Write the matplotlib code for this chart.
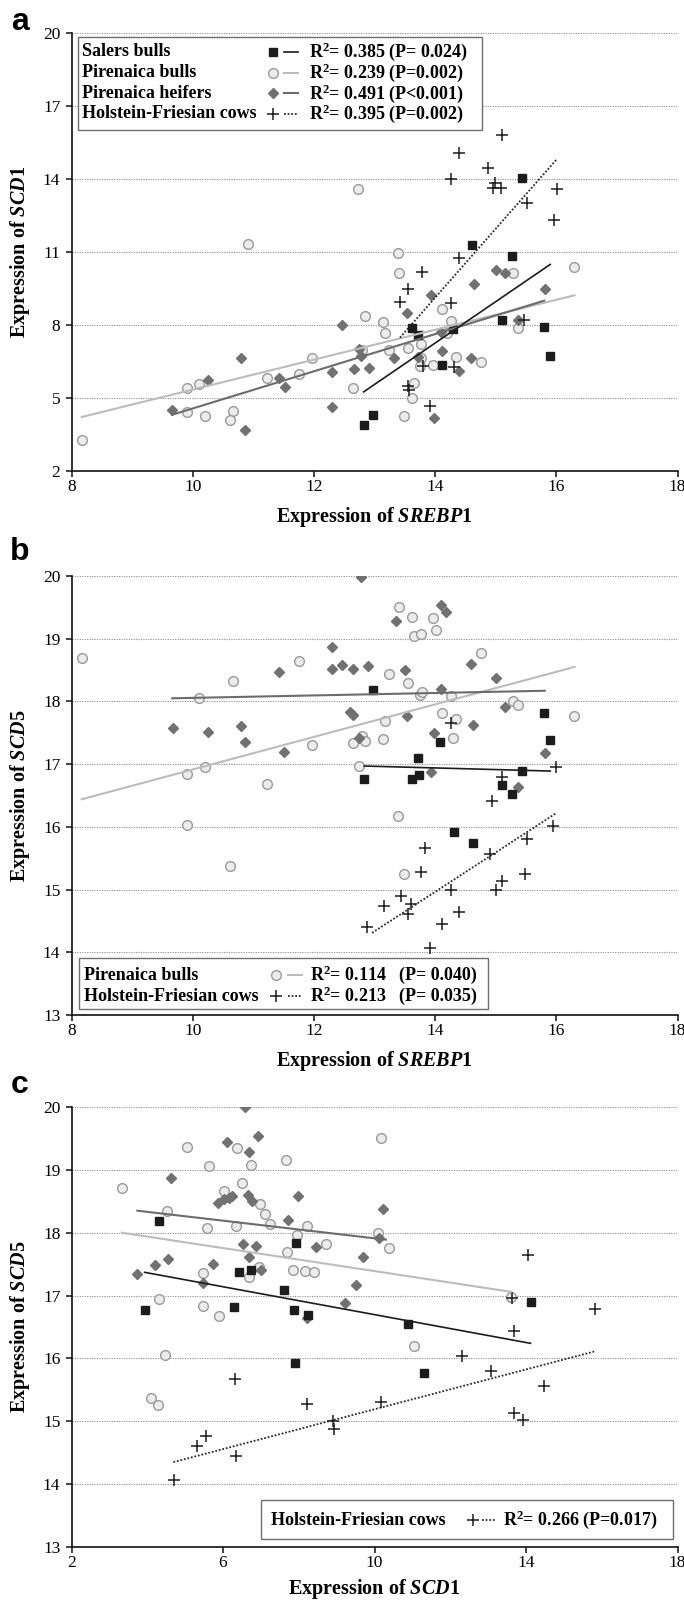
import numpy as np
import matplotlib
matplotlib.use("Agg")
import matplotlib.pyplot as plt
from matplotlib.patches import Rectangle

# ========= 字体 =========
plt.rcParams["font.family"] = ["Liberation Serif", "DejaVu Serif"]
plt.rcParams["mathtext.fontset"] = "custom"
plt.rcParams["mathtext.rm"] = "Liberation Serif:bold"
plt.rcParams["mathtext.bf"] = "Liberation Serif:bold"
plt.rcParams["mathtext.it"] = "Liberation Serif:italic:bold"

# ========= 数据 (a: SREBP1 vs SCD1) =========
salers_a = [(15.43, 14.04), (14.61, 11.27), (15.27, 10.82), (13.62, 7.86), (13.72, 7.58),
            (14.30, 7.85), (14.11, 6.37), (15.11, 8.20), (15.80, 7.90), (15.90, 6.73),
            (12.82, 3.90), (12.98, 4.30)]
bulls_a = [(12.73, 13.58), (10.91, 11.34), (13.39, 10.97), (16.30, 10.39), (13.40, 10.14),
           (15.29, 10.12), (14.11, 8.67), (12.85, 8.37), (13.14, 8.12), (13.17, 7.66),
           (14.26, 8.16), (15.36, 7.89), (14.19, 7.66), (13.24, 6.98), (13.55, 7.07),
           (13.77, 7.20), (13.77, 6.66), (13.75, 6.32), (13.97, 6.35), (14.35, 6.70),
           (14.75, 6.50), (12.79, 6.98), (12.65, 5.43), (13.66, 5.61), (13.62, 5.02),
           (13.48, 4.24), (11.97, 6.63), (11.76, 5.98), (11.22, 5.84), (10.11, 5.57),
           (9.91, 5.43), (9.91, 4.41), (10.20, 4.27), (10.66, 4.48), (10.61, 4.09),
           (8.17, 3.27)]
heifers_a = [(15.00, 10.28), (15.16, 10.12), (14.64, 9.69), (15.81, 9.49), (13.93, 9.24),
             (13.53, 8.48), (12.46, 7.99), (15.36, 8.20), (14.09, 7.73), (14.11, 6.93),
             (13.71, 6.70), (13.32, 6.66), (14.39, 6.09), (14.60, 6.63), (12.74, 7.00),
             (12.77, 6.73), (12.66, 6.18), (12.91, 6.22), (12.30, 6.05), (12.30, 4.64),
             (11.42, 5.81), (11.52, 5.46), (10.80, 6.66), (10.26, 5.73), (9.66, 4.52),
             (10.87, 3.70), (13.98, 4.16)]
cows_a = [(15.11, 15.82), (14.40, 15.08), (14.87, 14.45), (14.27, 14.01), (14.99, 13.84),
          (14.95, 13.63), (15.09, 13.63), (16.01, 13.59), (15.52, 13.03), (15.96, 12.30),
          (14.39, 10.75), (13.78, 10.17), (13.55, 9.46), (13.42, 8.94), (14.27, 8.89),
          (15.47, 8.20), (13.80, 6.32), (14.31, 6.29), (13.55, 5.50), (13.57, 5.34),
          (13.91, 4.68)]
# 回归线两端
fits_a = {
    "bulls": [(8.17, 4.22), (16.30, 9.22)],
    "heifers": [(9.66, 4.31), (15.80, 9.00)],
    "salers": [(12.82, 5.25), (15.90, 10.49)],
    "cows": [(13.42, 7.48), (16.00, 14.79)],
}

# ========= 数据 (b: SREBP1 vs SCD5) =========
salers_b = [(12.98, 18.18), (13.72, 17.09), (14.08, 17.36), (15.80, 17.81), (15.90, 17.39),
            (12.83, 16.77), (13.62, 16.77), (13.74, 16.83), (15.43, 16.89), (15.10, 16.67),
            (15.27, 16.53), (14.32, 15.92), (14.62, 15.75)]
bulls_b = [(8.17, 18.70), (11.76, 18.64), (10.66, 18.33), (10.11, 18.06), (9.91, 16.85),
           (10.20, 16.96), (11.22, 16.68), (11.97, 17.30), (12.74, 16.97), (12.65, 17.34),
           (12.79, 17.45), (12.85, 17.37), (13.14, 17.40), (13.17, 17.69), (13.24, 18.44),
           (13.40, 19.50), (13.62, 19.35), (13.66, 19.04), (13.77, 19.07), (13.97, 19.33),
           (14.01, 19.14), (13.55, 18.29), (13.75, 18.10), (13.78, 18.15), (14.26, 18.08),
           (14.11, 17.81), (14.35, 17.72), (14.29, 17.41), (14.75, 18.78), (15.29, 18.00),
           (15.37, 17.94), (16.30, 17.76), (9.91, 16.03), (10.61, 15.37), (13.39, 16.17),
           (13.48, 15.25)]
heifers_b = [(12.77, 19.99), (13.35, 19.29), (14.09, 19.54), (14.18, 19.42), (12.30, 18.87),
             (12.30, 18.52), (12.46, 18.58), (12.64, 18.52), (12.90, 18.57), (13.51, 18.50),
             (11.42, 18.47), (14.59, 18.59), (15.01, 18.38), (14.09, 18.20), (12.59, 17.83),
             (12.64, 17.78), (13.53, 17.77), (15.16, 17.91), (9.68, 17.57), (10.26, 17.52),
             (10.80, 17.61), (10.87, 17.35), (11.50, 17.20), (12.75, 17.41), (13.98, 17.49),
             (14.62, 17.62), (15.81, 17.17), (13.93, 16.87), (15.36, 16.64)]
cows_b = [(14.27, 17.66), (16.00, 16.96), (15.10, 16.79), (14.94, 16.42), (15.95, 16.02),
          (13.84, 15.66), (15.52, 15.81), (14.91, 15.57), (13.77, 15.28), (15.49, 15.25),
          (15.10, 15.13), (15.00, 15.00), (14.27, 14.99), (13.43, 14.89), (13.15, 14.74),
          (13.61, 14.77), (13.55, 14.61), (14.40, 14.65), (12.88, 14.41), (14.12, 14.45),
          (13.91, 14.07)]
fits_b = {
    "bulls": [(8.17, 16.44), (16.30, 18.55)],
    "heifers": [(9.66, 18.05), (15.81, 18.17)],
    "salers": [(12.83, 16.97), (15.90, 16.89)],
    "cows": [(12.96, 14.31), (16.00, 16.22)],
}

# ========= 数据 (c: SCD1 vs SCD5) =========
salers_c = [(4.31, 18.19), (3.93, 16.77), (6.42, 17.38), (6.75, 17.41), (7.93, 17.84),
            (7.60, 17.09), (6.28, 16.82), (7.87, 16.77), (8.25, 16.69), (10.88, 16.54),
            (14.12, 16.90), (7.89, 15.93), (11.32, 15.77)]
bulls_c = [(3.33, 18.71), (5.06, 19.37), (5.63, 19.06), (6.36, 19.34), (6.73, 19.07),
           (7.67, 19.16), (10.16, 19.51), (4.51, 18.35), (5.58, 18.07), (6.02, 18.66),
           (6.51, 18.79), (6.34, 18.11), (6.98, 18.45), (7.12, 18.29), (7.25, 18.14),
           (8.22, 18.10), (7.95, 17.97), (8.71, 17.82), (7.69, 17.69), (10.10, 18.00),
           (10.39, 17.76), (5.46, 17.36), (4.31, 16.95), (5.46, 16.84), (5.90, 16.68),
           (6.69, 17.30), (6.94, 17.46), (7.84, 17.40), (8.16, 17.39), (8.41, 17.38),
           (13.60, 16.98), (11.05, 16.20), (4.48, 16.05), (4.11, 15.37), (4.28, 15.26)]
heifers_c = [(6.57, 20.00), (6.92, 19.54), (6.10, 19.44), (6.69, 19.29), (4.63, 18.87),
             (5.87, 18.47), (6.02, 18.53), (6.16, 18.55), (6.25, 18.58), (6.65, 18.60),
             (6.77, 18.50), (7.98, 18.58), (10.22, 18.38), (7.72, 18.21), (10.12, 17.91),
             (6.53, 17.82), (6.88, 17.79), (8.45, 17.77), (9.69, 17.61), (6.69, 17.61),
             (3.74, 17.35), (4.20, 17.49), (4.55, 17.58), (5.73, 17.51), (7.00, 17.41),
             (5.46, 17.20), (9.52, 17.17), (9.23, 16.88), (8.22, 16.64)]
cows_c = [(14.04, 17.65), (15.82, 16.78), (13.63, 16.96), (13.69, 16.43), (12.32, 16.04),
          (13.08, 15.80), (14.47, 15.56), (13.69, 15.13), (13.91, 15.02), (10.16, 15.30),
          (8.22, 15.27), (6.33, 15.68), (8.91, 15.00), (8.94, 14.88), (5.55, 14.76),
          (5.32, 14.60), (6.34, 14.45), (4.71, 14.07)]
fits_c = {
    "bulls": [(3.33, 18.00), (13.60, 17.06)],
    "heifers": [(3.74, 18.35), (10.30, 17.89)],
    "salers": [(3.93, 17.37), (14.12, 16.24)],
    "cows": [(4.69, 14.35), (15.80, 16.11)],
}

# ========= 轴/刻度 =========
xticks_ab = [8, 10, 12, 14, 16, 18]
xticks_c = [2, 6, 10, 14, 18]
yticks_a = [2, 5, 8, 11, 14, 17, 20]
yticks_bc = [13, 14, 15, 16, 17, 18, 19, 20]

# ========= 样式 =========
mk = {
    "bulls": dict(marker="o", ms=7, mfc="#ececec", mec="#9a9a9a", mew=1.0, ls="none"),
    "heifers": dict(marker="D", ms=5.5, mfc="#717171", mec="#717171", ls="none"),
    "salers": dict(marker="s", ms=5.8, mfc="#1c1c1c", mec="#1c1c1c", ls="none"),
    "cows": dict(marker="+", ms=8, color="#1c1c1c", mew=1.1, ls="none"),
}
ln = {
    "bulls": dict(color="#bcbcbc", lw=1.5, ls="-"),
    "heifers": dict(color="#6c6c6c", lw=1.5, ls="-"),
    "salers": dict(color="#1c1c1c", lw=1.2, ls="-"),
    "cows": dict(color="#2a2a2a", lw=1.3, ls=(0, (1, 1))),
}

fig = plt.figure(figsize=(6.84, 16.03), dpi=100)
W, H = 684, 1603


def make_ax(top_px, bottom_px):
    left, right = 71.5, 677.5
    return fig.add_axes([left / W, 1 - bottom_px / H, (right - left) / W, (bottom_px - top_px) / H])


def style_ax(ax, xlim, ylim, xt, yt, xlabel, ylabel):
    ax.set_xlim(*xlim)
    ax.set_ylim(*ylim)
    ax.set_xticks(xt)
    ax.set_yticks(yt)
    ax.tick_params(axis="both", direction="out", length=4, width=1.1, labelsize=12.5, color="#111111")
    ax.tick_params(axis="y", pad=4)
    ax.tick_params(axis="x", pad=1.5)
    for s in ["top", "right"]:
        ax.spines[s].set_visible(False)
    for s in ["left", "bottom"]:
        ax.spines[s].set_linewidth(1.2)
        ax.spines[s].set_color("#111111")
    ax.set_axisbelow(True)
    ax.yaxis.grid(True, color="#8c8c8c", linestyle=(0, (1, 1.2)), linewidth=0.8)
    ax.set_xlabel(xlabel, fontsize=14.5, fontweight="bold", va="center")
    ax.xaxis.set_label_coords(0.5, -0.105)
    ax.set_ylabel(ylabel, fontsize=14.5, fontweight="bold", va="center")
    ax.yaxis.set_label_coords(-0.085, 0.5)


def draw_groups(ax, groups, fits, which_fits):
    for key in ["bulls", "heifers", "salers", "cows"]:
        pts = np.array(groups[key])
        ax.plot(pts[:, 0], pts[:, 1], **mk[key], zorder=3)
    for key in which_fits:
        p = np.array(fits[key])
        ax.plot(p[:, 0], p[:, 1], **ln[key], zorder=4)


def legend_box(ax, box, rows, fs=13):
    x0, y0, x1, y1 = box
    ax.add_patch(Rectangle((x0, y0), x1 - x0, y1 - y0, transform=ax.transAxes,
                           facecolor="white", edgecolor="#6f6f6f", lw=1.0, zorder=6))
    for r in rows:
        y = r["y"]
        ax.text(r["xn"], y, r["name"], transform=ax.transAxes, fontsize=fs,
                fontweight="bold", va="center", ha="left", zorder=7)
        ax.plot([r["xm"]], [y], transform=ax.transAxes, zorder=7, clip_on=False, **mk[r["key"]])
        ax.plot(r["xl"], [y, y], transform=ax.transAxes, zorder=7, clip_on=False, **ln[r["key"]])
        for xt, t in r["texts"]:
            ax.text(xt, y, t, transform=ax.transAxes, fontsize=fs, fontweight="bold",
                    va="center", ha="left", zorder=7)


# ========= a =========
ax_a = make_ax(33, 471)
draw_groups(ax_a, {"bulls": bulls_a, "heifers": heifers_a, "salers": salers_a, "cows": cows_a},
            fits_a, ["bulls", "heifers", "salers", "cows"])
style_ax(ax_a, (8, 18), (2, 20), xticks_ab, yticks_a,
         r"Expression of $\mathit{SREBP1}$", r"Expression of $\mathit{SCD1}$")
legend_box(ax_a, (0.011, 0.778, 0.678, 0.992), [
    dict(y=0.957, key="salers", name="Salers bulls", xn=0.018, xm=0.333, xl=[0.350, 0.373],
         texts=[(0.392, r"R$^{2}$= 0.385 (P= 0.024)")]),
    dict(y=0.909, key="bulls", name="Pirenaica bulls", xn=0.018, xm=0.333, xl=[0.350, 0.373],
         texts=[(0.392, r"R$^{2}$= 0.239 (P=0.002)")]),
    dict(y=0.862, key="heifers", name="Pirenaica heifers", xn=0.018, xm=0.333, xl=[0.350, 0.373],
         texts=[(0.392, r"R$^{2}$= 0.491 (P<0.001)")]),
    dict(y=0.816, key="cows", name="Holstein-Friesian cows", xn=0.018, xm=0.333, xl=[0.351, 0.373],
         texts=[(0.392, r"R$^{2}$= 0.395 (P=0.002)")]),
])

# ========= b =========
ax_b = make_ax(576, 1015)
draw_groups(ax_b, {"bulls": bulls_b, "heifers": heifers_b, "salers": salers_b, "cows": cows_b},
            fits_b, ["bulls", "heifers", "salers", "cows"])
style_ax(ax_b, (8, 18), (13, 20), xticks_ab, yticks_bc,
         r"Expression of $\mathit{SREBP1}$", r"Expression of $\mathit{SCD5}$")
legend_box(ax_b, (0.012, 0.013, 0.687, 0.129), [
    dict(y=0.090, key="bulls", name="Pirenaica bulls", xn=0.02, xm=0.338, xl=[0.357, 0.381],
         texts=[(0.394, r"R$^{2}$= 0.114"), (0.54, "(P= 0.040)")]),
    dict(y=0.043, key="cows", name="Holstein-Friesian cows", xn=0.02, xm=0.338, xl=[0.357, 0.381],
         texts=[(0.394, r"R$^{2}$= 0.213"), (0.54, "(P= 0.035)")]),
])

# ========= c =========
ax_c = make_ax(1107, 1547)
draw_groups(ax_c, {"bulls": bulls_c, "heifers": heifers_c, "salers": salers_c, "cows": cows_c},
            fits_c, ["bulls", "heifers", "salers", "cows"])
style_ax(ax_c, (2, 18), (13, 20), xticks_c, yticks_bc,
         r"Expression of $\mathit{SCD1}$", r"Expression of $\mathit{SCD5}$")
ax_c.xaxis.set_label_coords(0.5, -0.095)
legend_box(ax_c, (0.3125, 0.019, 0.9925, 0.106), [
    dict(y=0.061, key="cows", name="Holstein-Friesian cows", xn=0.33, xm=0.662, xl=[0.678, 0.700],
         texts=[(0.7125, r"R$^{2}$= 0.266 (P=0.017)")]),
])

# ========= 面板字母 =========
for lab, ypx in [("a", 22), ("b", 552), ("c", 1085)]:
    fig.text(20 / W, 1 - ypx / H, lab, fontsize=23, fontweight="bold",
             family="Liberation Sans", ha="center", va="center")

fig.savefig("out.png", dpi=100)
plt.close(fig)
print("完成")
